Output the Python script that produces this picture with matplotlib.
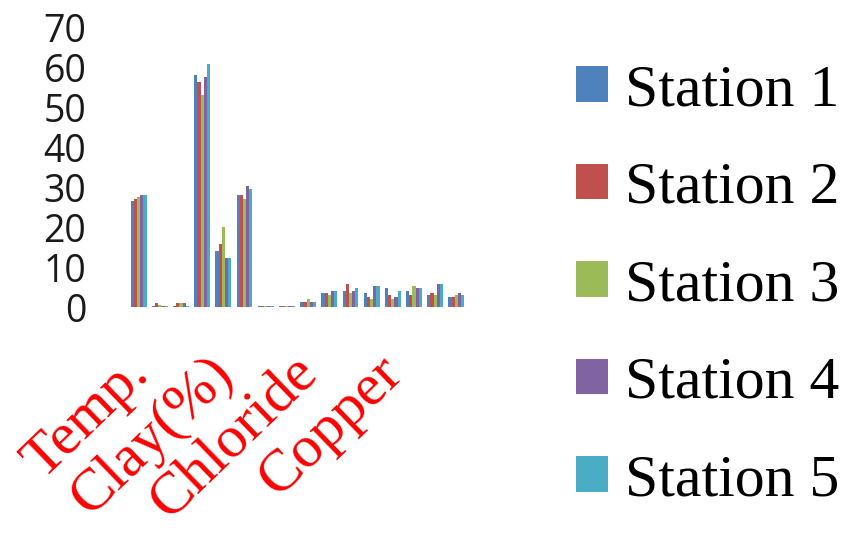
import matplotlib
matplotlib.use("Agg")
import matplotlib.pyplot as plt
import matplotlib.transforms as mtransforms
import numpy as np

# 16 parameter groups; only every 4th label is printed on the axis
tick_labels = ["Temp.", "", "", "", "Clay(%)", "", "", "", "Chloride", "", "", "", "Copper", "", "", ""]
series_names = ["Station 1", "Station 2", "Station 3", "Station 4", "Station 5"]
station1 = [26.6, 0.3, 0.3, 58.3, 14.0, 28.2, 0.3, 0.3, 1.3, 3.6, 4.1, 3.6, 4.7, 4.1, 3.0, 2.4]
station2 = [27.0, 0.9, 0.9, 56.5, 15.7, 28.2, 0.3, 0.3, 1.3, 3.6, 5.8, 2.4, 3.0, 3.0, 3.6, 2.4]
station3 = [27.5, 0.4, 0.9, 53.3, 20.0, 27.0, 0.3, 0.3, 1.9, 3.0, 3.6, 1.9, 1.9, 5.3, 3.0, 3.0]
station4 = [28.2, 0.3, 0.9, 57.6, 12.4, 30.4, 0.3, 0.3, 1.3, 4.1, 4.1, 5.3, 2.4, 4.7, 5.8, 3.6]
station5 = [28.2, 0.3, 0.3, 60.9, 12.4, 29.7, 0.3, 0.3, 1.3, 4.1, 4.7, 5.3, 4.1, 4.7, 5.8, 3.0]
yticks = [0, 10, 20, 30, 40, 50, 60, 70]

colors = ["#4F81BD", "#C0504D", "#9BBB59", "#8064A2", "#4BACC6"]
series = [station1, station2, station3, station4, station5]

W, H = 849, 535
fig = plt.figure(figsize=(W / 100, H / 100), dpi=100)
ax = fig.add_axes([128 / W, (H - 307) / H, 339 / W, 279 / H])

x = np.arange(len(tick_labels))
bw = 0.15
for i, (vals, name, c) in enumerate(zip(series, series_names, colors)):
    ax.bar(x + (i - 2) * bw, vals, width=bw, color=c, label=name, linewidth=0)

ax.set_xlim(-0.5, len(tick_labels) - 0.5)
ax.set_ylim(0, 70)
ax.set_yticks(yticks)
ax.set_yticklabels([str(v) for v in yticks], fontfamily="Open Sans", fontsize=27, color="#1a1a1a")
for s in ax.spines.values():
    s.set_visible(False)
ax.tick_params(axis="y", length=0, pad=30)

shown = [i for i, t in enumerate(tick_labels) if t]
ax.set_xticks(shown)
ax.set_xticklabels([tick_labels[i] for i in shown], rotation=44, ha="right", va="top",
                   fontfamily="Liberation Serif", fontsize=43, color="red")
ax.tick_params(axis="x", length=0, pad=28)
off = mtransforms.ScaledTranslation(21 / 100, 0, fig.dpi_scale_trans)
for lab in ax.get_xticklabels():
    lab.set_transform(lab.get_transform() + off)

handles, labels = ax.get_legend_handles_labels()
fig.legend(handles, labels, loc="upper left", bbox_to_anchor=(576 / W, 1 - 64 / H),
           frameon=False, prop={"family": "Liberation Serif", "size": 43},
           handlelength=0.54, handleheight=0.54, handletextpad=0.28,
           labelspacing=0.73, borderpad=0, borderaxespad=0)

fig.savefig("out.png", dpi=100)
